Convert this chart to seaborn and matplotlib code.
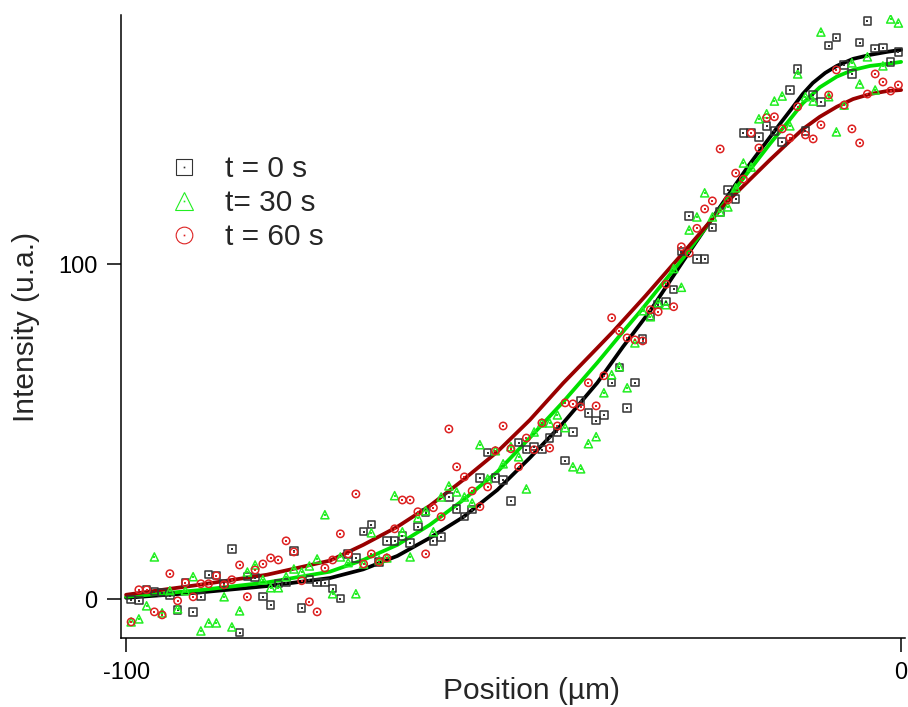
import matplotlib
matplotlib.use("Agg")
import matplotlib.pyplot as plt
from matplotlib.lines import Line2D
from matplotlib.legend_handler import HandlerTuple
import numpy as np
import seaborn as sns

# sampling grid of the profiles (1 µm step)
position_um = np.arange(100) - 99.35

intensity_0s = [
    -0.2, -0.5, 2.8, 2.2, 1.9, 1.0, -3.2, 4.9, -3.8, 0.7,
    7.3, 7.0, 4.6, 15.0, -10.0, 6.7, 6.4, 0.7, -1.7, 4.6,
    4.9, 14.4, -2.6, 5.8, 4.9, 4.9, 3.1, 0.1, 13.5, 12.3,
    20.1, 22.2, 11.1, 17.4, 17.4, 18.9, 16.8, 21.6, 25.8, 17.4,
    18.6, 30.5, 26.9, 24.6, 26.7, 36.2, 43.7, 36.2, 35.6, 29.3,
    46.7, 44.6, 45.5, 44.6, 48.1, 49.9, 41.3, 49.9, 59.2, 55.6,
    53.3, 55.0, 64.6, 69.1, 57.1, 64.6, 77.7, 84.3, 87.9, 88.8,
    92.5, 103.7, 114.4, 101.6, 101.6, 110.9, 115.6, 122.2, 119.5, 139.2,
    139.2, 138.0, 141.3, 139.8, 136.5, 152.0, 158.3, 139.8, 150.5, 148.4,
    165.2, 167.6, 159.5, 156.8, 166.1, 172.6, 164.3, 164.6, 160.4, 163.4,
]

intensity_30s = [
    -6.8, -5.9, -2.0, 12.6, -4.1, 2.5, -2.9, 2.5, 6.7, -9.5,
    -7.1, -7.1, 0.7, -8.3, -3.5, 8.1, 10.2, 5.8, 3.4, 3.4,
    6.7, 9.0, 8.1, 9.9, 12.0, 25.2, 1.6, 12.6, 10.9, 1.6,
    10.5, 19.8, 11.7, 12.3, 30.9, 20.1, 12.6, 24.3, 26.4, 20.1,
    30.5, 33.8, 32.0, 30.5, 28.7, 46.1, 35.9, 44.3, 40.4, 45.5,
    42.5, 32.9, 49.9, 52.6, 52.6, 55.0, 51.2, 39.5, 38.9, 46.4,
    48.5, 61.6, 67.0, 69.4, 63.1, 76.5, 86.1, 84.3, 88.5, 87.9,
    98.7, 93.1, 110.2, 114.1, 121.3, 114.1, 115.6, 117.1, 122.8, 130.2,
    129.0, 143.4, 144.9, 148.7, 150.2, 141.3, 156.8, 150.0, 148.7, 169.3,
    150.0, 139.5, 147.5, 160.1, 153.8, 161.9, 152.0, 159.2, 173.2, 172.0,
]

intensity_60s = [
    -6.8, 2.8, 2.8, -3.8, -4.7, 7.6, -0.5, 4.9, 0.7, 4.6,
    4.6, 7.0, 4.3, 5.8, 10.2, 0.7, 8.7, 10.5, 12.3, 11.7,
    17.4, 14.1, 5.5, -0.8, -3.8, 9.3, 11.7, 19.5, 13.5, 31.4,
    10.5, 13.5, 11.1, 12.3, 21.0, 29.6, 29.6, 26.1, 13.5, 27.3,
    24.6, 50.8, 39.5, 36.5, 32.3, 27.6, 33.5, 44.3, 51.7, 44.9,
    39.5, 48.1, 44.6, 52.6, 45.1, 51.7, 58.6, 58.3, 57.4, 64.6,
    57.7, 66.7, 84.0, 80.1, 78.0, 77.4, 77.1, 86.4, 85.8, 94.0,
    87.3, 105.2, 103.3, 110.7, 116.5, 118.9, 134.4, 119.2, 127.2, 125.4,
    139.2, 134.7, 143.7, 144.0, 140.4, 137.7, 147.0, 138.6, 137.4, 141.6,
    150.5, 158.0, 147.5, 140.4, 136.2, 150.8, 156.8, 154.4, 151.7, 153.5,
]

# fitted profiles
fit_x_0s = [-100, -90.5, -81.8, -73.7, -69.4, -65.0, -60.8, -56.5, -52.1, -47.9,
            -43.6, -39.2, -35.9, -32.4, -28.1, -24.0, -19.5, -16.9, -15.6, -14.1,
            -12.7, -11.4, -9.8, -8.3, -6.2, -4.0, -1.8, 0.0]
fit_y_0s = [0.4, 2.0, 3.9, 6.3, 8.9, 12.9, 18.3, 24.5, 32.6, 42.2,
            52.6, 64.6, 75.3, 86.0, 101.0, 115.0, 130.0, 138.0, 142.0, 146.5,
            150.8, 154.1, 157.1, 159.2, 161.3, 162.5, 163.4, 164.0]

fit_x_30s = [-100, -90.5, -81.8, -73.7, -69.4, -65.0, -60.8, -56.5, -52.1, -47.9,
             -43.6, -39.2, -35.9, -33.7, -28.1, -24.0, -19.5, -16.9, -14.7, -12.7,
             -10.5, -8.3, -6.2, -4.0, -1.8, 0.0]
fit_y_30s = [0.7, 2.7, 5.0, 8.2, 11.7, 16.2, 22.2, 29.6, 38.0, 48.2,
             58.9, 70.6, 79.8, 85.8, 101.9, 114.7, 128.2, 136.0, 142.2, 148.0,
             152.8, 156.0, 158.0, 159.2, 159.8, 160.4]

fit_x_60s = [-100, -90.5, -81.8, -73.7, -69.4, -65.0, -60.8, -56.5, -52.1, -47.9,
             -43.6, -39.2, -37.2, -33.0, -27.9, -22.5, -19.5, -16.9, -14.7, -12.7,
             -10.5, -8.3, -6.2, -4.0, -1.8, 0.0]
fit_y_60s = [1.3, 4.3, 7.3, 11.5, 16.2, 21.6, 27.9, 35.6, 44.0, 53.5,
             64.5, 75.0, 79.8, 90.5, 104.0, 118.5, 125.3, 131.2, 136.0, 140.3,
             144.0, 147.0, 149.3, 150.8, 151.7, 152.0]

labels = ["t = 0 s", "t= 30 s", "t = 60 s"]
point_colors = ["#333333", "#22ee22", "#dd2222"]
fit_colors = ["#000000", "#00e000", "#990000"]
markers = ["s", "^", "o"]

sns.set_style("ticks")
plt.rcParams["font.family"] = ["Liberation Sans", "DejaVu Sans"]

fig = plt.figure(figsize=(9.08, 7.07), dpi=100)
ax = fig.add_axes([0.1333, 0.0976, 0.8634, 0.8812])

series = [
    (intensity_0s, fit_x_0s, fit_y_0s),
    (intensity_30s, fit_x_30s, fit_y_30s),
    (intensity_60s, fit_x_60s, fit_y_60s),
]

for (vals, fx, fy), fc in zip(series, fit_colors):
    sns.lineplot(x=fx, y=fy, ax=ax, color=fc, linewidth=2.7, zorder=2)

for (vals, fx, fy), pc, mk in zip(series, point_colors, markers):
    sz = 34 if mk == "^" else 28
    sns.scatterplot(x=position_um, y=vals, ax=ax, marker=mk, s=sz,
                    facecolor="none", edgecolor=pc, linewidth=1.1, zorder=3)
    sns.scatterplot(x=position_um, y=vals, ax=ax, marker="s", s=1.2,
                    color=pc, linewidth=0, zorder=4)

ax.set_xlim(-100.65, 0.5)
ax.set_ylim(-11.6, 174.4)
ax.set_xticks([-100, 0])
ax.set_xticklabels(["-100", "0"])
ax.set_yticks([0, 100])
ax.set_yticklabels(["0", "100"])
ax.tick_params(direction="out", length=10, width=1.1, labelsize=17, pad=7, colors="black")
for side in ["left", "bottom"]:
    ax.spines[side].set_linewidth(1.1)
    ax.spines[side].set_color("black")
sns.despine(ax=ax)

ax.set_xlabel("Position (µm)", fontsize=21.5)
ax.xaxis.set_label_coords(0.523, -0.062)
ax.set_ylabel("Intensity (u.a.)", fontsize=21.5, labelpad=13)

handles = []
for pc, mk in zip(point_colors, markers):
    big = Line2D([], [], linestyle="none", marker=mk, markersize=12 if mk != "^" else 13,
                 markerfacecolor="none", markeredgecolor=pc, markeredgewidth=0.8)
    dot = Line2D([], [], linestyle="none", marker="s", markersize=1.2,
                 markerfacecolor=pc, markeredgecolor=pc, markeredgewidth=0)
    handles.append((big, dot))

ax.legend(handles, labels, handler_map={tuple: HandlerTuple(ndivide=1)},
          loc="upper left", bbox_to_anchor=(0.0574, 0.775), frameon=False,
          fontsize=21.5, handlelength=1.2, handletextpad=0.77, labelspacing=0.2,
          borderpad=0, borderaxespad=0)

fig.savefig("out.png", dpi=100)
